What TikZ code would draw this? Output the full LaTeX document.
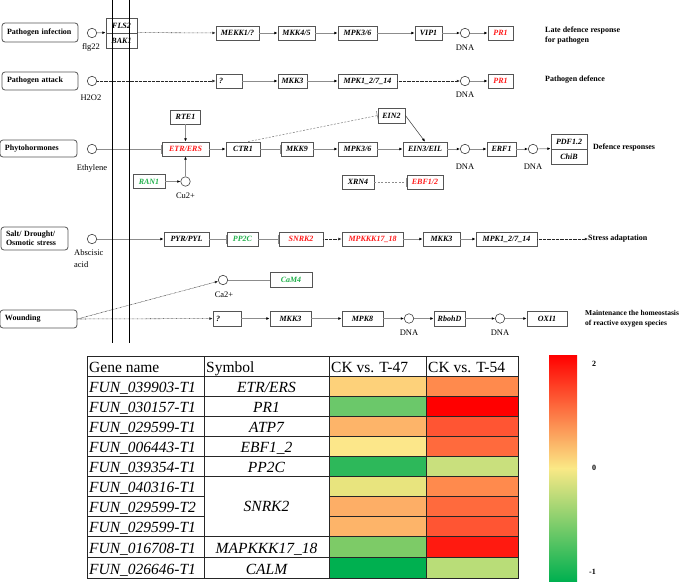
\documentclass[tikz,border=0pt]{standalone}
\usepackage{fontspec}
\setmainfont{Liberation Serif}
\usetikzlibrary{arrows.meta}
\definecolor{boxgray}{HTML}{555555}
\definecolor{linegray}{HTML}{8C8C8C}
\definecolor{kred}{HTML}{FF1A1A}
\definecolor{kgreen}{HTML}{22B14C}
\definecolor{cbred}{HTML}{FF0000}
\definecolor{cborange}{HTML}{FDA060}
\definecolor{cbyellow}{HTML}{FAE986}
\definecolor{cblgreen}{HTML}{8ACF6C}
\definecolor{cbgreen}{HTML}{00B050}
\begin{document}
\begin{tikzpicture}[x=1pt,y=-1pt,
  gbox/.style={draw=boxgray, line width=0.8pt, fill=white, font=\fontsize{8}{9}\selectfont\bfseries\itshape, inner sep=0pt, minimum height=14pt},
  rowlab/.style={draw=boxgray, line width=0.8pt, rounded corners=3pt, font=\fontsize{8}{9.5}\selectfont\bfseries, align=left, inner xsep=5pt, inner ysep=0pt},
  circ/.style={circle, draw=black!75, line width=0.6pt, minimum size=9.5pt, inner sep=0pt, fill=white},
  lab/.style={font=\fontsize{8.5}{12}\selectfont, inner sep=0pt},
  rtext/.style={font=\fontsize{8}{10}\selectfont\bfseries, inner sep=0pt, anchor=west, align=left},
  ar/.style={draw=linegray, line width=0.7pt, -{Latex[length=3.2pt,width=2.8pt,color=black]}},
  thinar/.style={draw=black!80, line width=0.5pt, -{Latex[length=3.2pt,width=2.8pt,color=black]}},
  inh/.style={draw=linegray, line width=0.7pt, -{Bar[width=9pt]}},
  dotar/.style={draw=black!85, line width=0.55pt, dash pattern=on 0.55pt off 0.75pt, -{Latex[length=3.2pt,width=2.8pt]}},
  dashinh/.style={draw=linegray, line width=0.6pt, dash pattern=on 2pt off 1.5pt, -{Bar[width=9pt]}},
  plainln/.style={draw=linegray, line width=0.7pt},
  tline/.style={draw=black!85, line width=0.8pt},
  tcell/.style={font=\fontsize{15.5}{16}\selectfont, inner sep=0pt},
  cblab/.style={font=\fontsize{8}{9}\selectfont\bfseries, inner sep=0pt, anchor=west}
]
\useasboundingbox (0,0) rectangle (685,581);

% ---------- Row 1 ----------
\node[rowlab, text width=66pt, minimum height=19pt] (pinf) at (40,32.5) {Pathogen infection};
\node[circ] (c1) at (92,33) {};
\node[lab] (flg) at (91,47) {flg22};
\node[gbox, minimum width=31pt, minimum height=15pt] (fls) at (121.5,25.5) {FLS2};
\node[gbox, minimum width=31pt, minimum height=15pt] (bak) at (121.5,40.5) {BAK1};
\node[gbox, minimum width=43pt] (mekk) at (237.5,33) {MEKK1/?};
\node[gbox, minimum width=37pt] (mkkA) at (296.5,33) {MKK4/5};
\node[gbox, minimum width=39pt] (mpkA) at (357.5,33) {MPK3/6};
\node[gbox, minimum width=27pt] (vip) at (428.5,33) {VIP1};
\node[circ] (d1) at (465,33) {};
\node[lab] (d1l) at (465,48) {DNA};
\node[gbox, minimum width=25pt, text=kred] (pr1a) at (500.5,33) {PR1};
\node[rtext] (t1) at (545,36) {Late defence response\\for pathogen};
\draw[ar] (c1) -- (bak.north west);
\draw[dotar] (bak.north east) -- (mekk);
\draw[ar] (mekk) -- (mkkA);
\draw[ar] (mkkA) -- (mpkA);
\draw[ar] (mpkA) -- (vip);
\draw[ar] (vip) -- (d1);
\draw[ar] (d1) -- (pr1a);

% ---------- Row 2 ----------
\node[rowlab, text width=66pt, minimum height=18pt] (patt) at (40,81) {Pathogen attack};
\node[circ] (c2) at (92,81) {};
\node[lab] (h2o2) at (91,98) {H2O2};
\node[gbox, minimum width=26pt, text width=20pt, align=left] (q1) at (229,81) {?};
\node[gbox, minimum width=29pt] (mkk3a) at (292.5,81) {MKK3};
\node[gbox, minimum width=59pt] (mpk1a) at (367.5,81) {MPK1\_2/7\_14};
\node[circ] (d2) at (465,81) {};
\node[lab] (d2l) at (465,95) {DNA};
\node[gbox, minimum width=25pt, text=kred] (pr1b) at (500.5,81) {PR1};
\node[rtext] (t2) at (545,80) {Pathogen defence};
\draw[dotar] (c2) -- (q1);
\draw[ar] (q1) -- (mkk3a);
\draw[ar] (mkk3a) -- (mpk1a);
\draw[dotar] (mpk1a) -- (d2);
\draw[ar] (d2) -- (pr1b);

% ---------- Row 3 ----------
\node[rowlab, text width=67pt, minimum height=17pt] (phy) at (38.5,148.5) {Phytohormones};
\node[circ] (c3) at (92,149) {};
\node[lab] (eth) at (92,168) {Ethylene};
\node[gbox, minimum width=47pt, text=kred] (etr) at (185.5,149) {ETR/ERS};
\node[gbox, minimum width=30pt] (rte) at (185.5,117) {RTE1};
\node[gbox, minimum width=32pt, text=kgreen] (ran) at (149,181.5) {RAN1};
\node[circ] (cu) at (185.5,181.5) {};
\node[lab] (cul) at (185.5,196) {Cu2+};
\node[gbox, minimum width=34pt] (ctr) at (243,149) {CTR1};
\node[gbox, minimum width=32pt] (mkk9) at (297,149) {MKK9};
\node[gbox, minimum width=39pt] (mpkB) at (357.5,149) {MPK3/6};
\node[gbox, minimum width=27pt, minimum height=15pt] (ein2) at (391.5,115.5) {EIN2};
\node[gbox, minimum width=44pt] (ein3) at (425,149) {EIN3/EIL};
\node[circ] (d3) at (465,149) {};
\node[lab] (d3l) at (465,167) {DNA};
\node[gbox, minimum width=29pt] (erf) at (501.5,149) {ERF1};
\node[circ] (d4) at (533,149) {};
\node[lab] (d4l) at (533,167) {DNA};
\node[gbox, minimum width=36pt, minimum height=15pt] (pdf) at (569,141.5) {PDF1.2};
\node[gbox, minimum width=36pt, minimum height=15pt] (chib) at (569,156.5) {ChiB};
\node[rtext] (t3) at (593,148) {Defence responses};
\node[gbox, minimum width=32pt] (xrn) at (358,182) {XRN4};
\node[gbox, minimum width=36pt, text=kred] (ebf) at (425,182) {EBF1/2};
\draw[inh] (c3) -- (etr);
\draw[ar] (rte) -- (etr);
\draw[ar] (ran) -- (cu);
\draw[ar] (cu) -- (etr);
\draw[ar] (etr) -- (ctr);
\draw[inh] (ctr) -- (mkk9);
\draw[ar] (mkk9) -- (mpkB);
\draw[ar] (mpkB) -- (ein3);
\draw[dashinh] (ctr.55) -- (ein2.west);
\draw[thinar] (ein2.east) -- (ein3.north);
\draw[ar] (ein3) -- (d3);
\draw[ar] (d3) -- (erf);
\draw[ar] (erf) -- (d4);
\draw[ar] (d4) -- (chib.north west);
\draw[dashinh] (xrn) -- (ebf);

% ---------- Row 4 ----------
\node[rowlab, text width=57pt, minimum height=23pt] (salt) at (34.5,238.5) {Salt/ Drought/\\Osmotic stress};
\node[circ] (c4) at (92,239) {};
\node[lab, align=left, anchor=north west] (aba) at (74,249) {Abscisic\\acid};
\node[gbox, minimum width=45pt] (pyr) at (186.5,239) {PYR/PYL};
\node[gbox, minimum width=31pt, text=kgreen] (pp2c) at (242.5,239) {PP2C};
\node[gbox, minimum width=44pt, text=kred] (snrk) at (301,239) {SNRK2};
\node[gbox, minimum width=61pt, text=kred] (mpkkk) at (372.5,239) {MPKKK17\_18};
\node[gbox, minimum width=37pt] (mkk3b) at (441.5,239) {MKK3};
\node[gbox, minimum width=61pt] (mpk1b) at (506.5,239) {MPK1\_2/7\_14};
\node[rtext] (t4) at (588,239) {Stress adaptation};
\draw[ar] (c4) -- (pyr);
\draw[inh] (pyr) -- (pp2c);
\draw[inh] (pp2c) -- (snrk);
\draw[dotar] (snrk) -- (mpkkk);
\draw[ar] (mpkkk) -- (mkk3b);
\draw[ar] (mkk3b) -- (mpk1b);
\draw[dotar] (mpk1b) -- (t4);

% ---------- Row 5 ----------
\node[circ] (ca) at (223,280) {};
\node[lab] (cal) at (224,295) {Ca2+};
\node[gbox, minimum width=42pt, minimum height=15pt, text=kgreen] (cam) at (291,280) {CaM4};
\node[rowlab, text width=67pt, minimum height=18pt] (wound) at (38.5,319) {Wounding};
\node[gbox, minimum width=28pt, minimum height=15pt, text width=22pt, align=left] (q2) at (227,318.5) {?};
\node[gbox, minimum width=41pt, minimum height=15pt] (mkk3c) at (290.5,318.5) {MKK3};
\node[gbox, minimum width=41pt, minimum height=15pt] (mpk8) at (362.5,318.5) {MPK8};
\node[circ] (d5) at (409,318.5) {};
\node[lab] (d5l) at (409,333) {DNA};
\node[gbox, minimum width=31pt, minimum height=15pt] (rboh) at (449.5,318.5) {RbohD};
\node[circ] (d6) at (500,318.5) {};
\node[lab] (d6l) at (500,333) {DNA};
\node[gbox, minimum width=40pt, minimum height=15pt] (oxi) at (547,318.5) {OXI1};
\node[rtext, font=\fontsize{7.5}{10}\selectfont\bfseries] (t5) at (585,318.5) {Maintenance the homeostasis\\of reactive oxygen species};
\draw[dotar] (wound.east) -- (ca);
\draw[plainln] (ca) -- (cam);
\draw[dotar] (wound.east) -- (q2);
\draw[ar] (q2) -- (mkk3c);
\draw[ar] (mkk3c) -- (mpk8);
\draw[ar] (mpk8) -- (d5);
\draw[ar] (d5) -- (rboh);
\draw[ar] (rboh) -- (d6);
\draw[ar] (d6) -- (oxi);

% membrane lines
\draw[line width=0.9pt] (112,0) -- (112,343);
\draw[line width=0.9pt] (129,0) -- (129,343);

% ---------- Table ----------
\foreach \t/\b/\ca/\cb in {376/396/FDD17A/FF8A4D, 396/416/6BC86A/FF0000, 416/436/FDB469/FF5533, 436/456/FCE78A/FF6A3D, 456/476/2DB85A/C9E07D, 476/496/E8E47E/FF8A4D, 496/516/FDAE66/FF6A3D, 516/536/FDB469/FF5533, 536/557/7DCB67/FF1A10, 557/578/00B050/B9DD78}{
  \definecolor{tmpa}{HTML}{\ca}
  \definecolor{tmpb}{HTML}{\cb}
  \fill[tmpa] (329,\t) rectangle (426,\b);
  \fill[tmpb] (426,\t) rectangle (518,\b);
}
\draw[tline] (87,356) rectangle (518,578);
\foreach \x in {204,329,426} \draw[tline] (\x,356) -- (\x,578);
\foreach \y in {376,396,416,436,456,476,536,557} \draw[tline] (87,\y) -- (518,\y);
\foreach \y in {496,516} {
  \draw[tline] (87,\y) -- (204,\y);
  \draw[tline] (329,\y) -- (518,\y);
}
\node[tcell, anchor=base west] (h1) at (89,372) {Gene name};
\node[tcell, anchor=base west] (h2) at (206,372) {Symbol};
\node[tcell, anchor=base west] (h3) at (331,372) {CK vs. T-47};
\node[tcell, anchor=base west] (h4) at (428,372) {CK vs. T-54};
\foreach \b/\g [count=\i] in {396/039903-T1, 416/030157-T1, 436/029599-T1, 456/006443-T1, 476/039354-T1, 496/040316-T1, 516/029599-T2, 536/029599-T1, 557/016708-T1, 578/026646-T1}
  \node[tcell, anchor=base west, font=\fontsize{15.5}{16}\selectfont\itshape] (g\i) at (89,\b-4) {FUN\_\g};
\foreach \b/\s [count=\i] in {396/{ETR/ERS}, 416/PR1, 436/ATP7, 456/EBF1\_2, 476/PP2C, 557/MAPKKK17\_18, 578/CALM}
  \node[tcell, anchor=base, font=\fontsize{15.5}{16}\selectfont\itshape] (s\i) at (266.5,\b-4) {\s};
\node[tcell, anchor=base, font=\fontsize{15.5}{16}\selectfont\itshape] (snrk2t) at (266.5,511) {SNRK2};

% ---------- Colour bar ----------
\shade[top color=cbred, middle color=cborange, bottom color=cbyellow] (549,355) rectangle (577,468.5);
\shade[top color=cbyellow, middle color=cblgreen, bottom color=cbgreen] (549,468) rectangle (577,581);
\node[cblab] (cb2) at (592,364) {2};
\node[cblab] (cb0) at (592,468) {0};
\node[cblab] (cbm) at (589,572) {-1};
\end{tikzpicture}
\end{document}
